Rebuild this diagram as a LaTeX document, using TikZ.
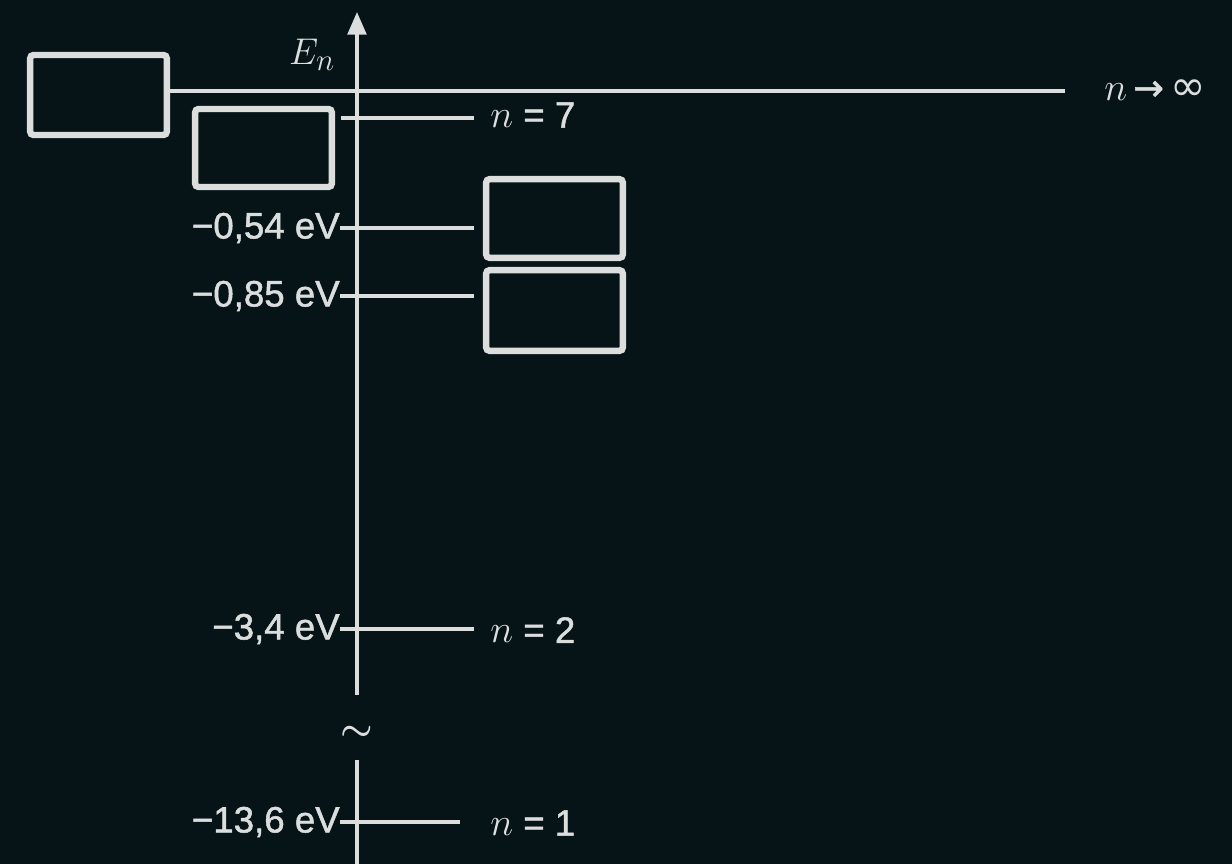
\documentclass[tikz,border=0pt]{standalone}
\usepackage{fontspec}
\usepackage{graphicx}
\setmainfont{Liberation Sans}
\newfontfamily\labfont{Liberation Sans}[FakeBold=1.3]
\newfontfamily\symfont{DejaVu Sans}[FakeBold=1.3]
\newfontfamily\inffont{DejaVu Sans}
\usetikzlibrary{arrows.meta}
\definecolor{bg}{HTML}{061418}
\definecolor{fg}{HTML}{DCDEDE}
\newcommand{\nvar}{{\fontsize{24.88}{28}\selectfont\scalebox{1.18}{$n$}}}
\tikzset{
  px/.style={x=0.75pt,y=-0.75pt},
  frame/.style={draw=fg,line width=4.8pt,rounded corners=2.5pt,inner sep=0pt,fill=none},
  lvl/.style={draw=fg,line width=2.5pt},
  axis/.style={draw=fg,line width=2.6pt},
  lab/.style={text=fg,inner sep=0pt,font=\labfont\fontsize{27.5}{32}\selectfont},
}
\begin{document}
\begin{tikzpicture}[px]
\fill[bg] (0,0) rectangle (1232,864);
\useasboundingbox (0,0) rectangle (1232,864);
% axis
\coordinate (axbot) at (357,695);
\coordinate (axtop) at (357,12);
\coordinate (ax2top) at (357,760);
\coordinate (ax2bot) at (357,864);
\draw[axis,-{Triangle[width=14pt,length=17pt]}] (axbot) -- (axtop);
\draw[axis] (ax2top) -- (ax2bot);
\node[lab,font=\fontsize{24.88}{28}\selectfont\boldmath] (tilde) at (357,733) {\scalebox{1.1}{$\sim$}};
\node[lab,font=\fontsize{24.88}{28}\selectfont] (En) at (312,55) {\scalebox{1.12}{$E_n$}};
% boxes
\node[frame,minimum width=102.5pt,minimum height=60pt] (b1) at (98.5,95) {};
\node[frame,minimum width=102.5pt,minimum height=58.5pt] (b2) at (263.5,148) {};
\node[frame,minimum width=102.5pt,minimum height=59pt] (b3) at (554.5,218.5) {};
\node[frame,minimum width=102.5pt,minimum height=60.5pt] (b4) at (554.5,310.5) {};
% ionisation line
\coordinate (inf) at (1065,91);
\draw[lvl] (b1.east |- 0,91) -- (inf);
\node[lab,anchor=west] (ninf) at (1104,90) {\nvar\,{\symfont →}\,{\inffont\fontsize{32}{34}\selectfont ∞}};
% n = 7
\coordinate (s7) at (341,118);
\coordinate (e7) at (474,118);
\draw[lvl] (s7) -- (e7);
\node[lab,anchor=west] (n7) at (490,115) {\nvar{} = 7};
% -0,54
\node[lab,anchor=east] (l54) at (340,228) {−0,54 eV};
\coordinate (e54) at (474,228);
\draw[lvl] (l54.east) -- (e54);
% -0,85
\node[lab,anchor=east] (l85) at (340,296) {−0,85 eV};
\coordinate (e85) at (474,296);
\draw[lvl] (l85.east) -- (e85);
% -3,4
\node[lab,anchor=east] (l34) at (340,629) {−3,4 eV};
\coordinate (e34) at (474,629);
\draw[lvl] (l34.east) -- (e34);
\node[lab,anchor=west] (n2) at (490,630) {\nvar{} = 2};
% -13,6
\node[lab,anchor=east] (l136) at (340,822) {−13,6 eV};
\coordinate (e136) at (460,822);
\draw[lvl] (l136.east) -- (e136);
\node[lab,anchor=west] (n1) at (490,823) {\nvar{} = 1};
\end{tikzpicture}
\end{document}
